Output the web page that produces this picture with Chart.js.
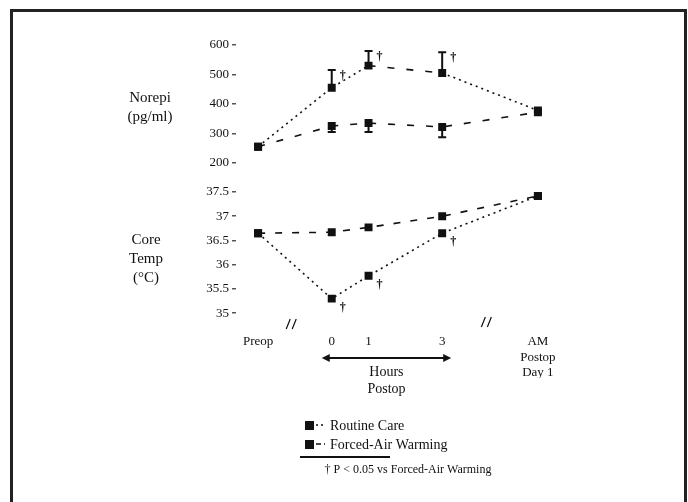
<!DOCTYPE html>
<html>
<head>
<meta charset="utf-8">
<script src="https://cdn.jsdelivr.net/npm/chart.js@4/dist/chart.umd.min.js"></script>
<style>
  html, body { margin: 0; padding: 0; background: #fff; }
  #wrap { width: 688px; height: 502px; position: relative; }
</style>
</head>
<body>
<div id="wrap"><canvas id="c" width="688" height="502"></canvas></div>
<script>
// ---- data ----
const xLabels = ['Preop', '0', '1', '3', ['AM', 'Postop', 'Day 1']];
const xPositions = [-2, 0, 1, 3, 5.6];           // hours (Preop and Day 1 placed across axis breaks)
const seriesNames = ['Routine Care', 'Forced-Air Warming'];

const norepiRoutine = [255, 455, 530, 505, 378];
const norepiForced  = [255, 325, 335, 322, 372];
const norepiRoutineErr = [0, 60, 50, 70, 0];
const norepiForcedErr  = [0, 20, 30, 35, 0];

const tempRoutine = [36.65, 35.30, 35.77, 36.65, 37.42];
const tempForced  = [36.65, 36.67, 36.77, 37.00, 37.42];

const norepiTicks = [200, 300, 400, 500, 600];
const tempTicks = [35, 35.5, 36, 36.5, 37, 37.5];
const sigRoutine = [false, true, true, true, false];   // † P < 0.05 vs Forced-Air Warming

const SERIF = '"Liberation Serif", "DejaVu Serif", serif';
const INK = '#111';

function pts(ys) { return ys.map((y, i) => ({ x: xPositions[i], y })); }

const annot = {
  id: 'annot',
  afterDatasetsDraw(chart) {
    const ctx = chart.ctx;
    const xs = chart.scales.x, yN = chart.scales.yN, yT = chart.scales.yT;
    ctx.save();
    ctx.strokeStyle = INK; ctx.fillStyle = INK;

    // error bars (routine up, forced down) on norepinephrine panel
    ctx.lineWidth = 2;
    function ebar(vals, errs, dir) {
      vals.forEach((v, i) => {
        if (!errs[i]) return;
        const px = xs.getPixelForValue(xPositions[i]);
        const p0 = yN.getPixelForValue(v), p1 = yN.getPixelForValue(v + dir * errs[i]);
        ctx.beginPath(); ctx.moveTo(px, p0); ctx.lineTo(px, p1);
        ctx.moveTo(px - 4, p1); ctx.lineTo(px + 4, p1); ctx.stroke();
      });
    }
    ebar(norepiRoutine, norepiRoutineErr, 1);
    ebar(norepiForced, norepiForcedErr, -1);

    // significance daggers
    ctx.font = 'bold 12px ' + SERIF;
    ctx.textAlign = 'center'; ctx.textBaseline = 'middle';
    sigRoutine.forEach((s, i) => {
      if (!s) return;
      const px = xs.getPixelForValue(xPositions[i]);
      const top = yN.getPixelForValue(norepiRoutine[i] + norepiRoutineErr[i]);
      ctx.fillText('\u2020', px + 11, top + 6);
      const pt = yT.getPixelForValue(tempRoutine[i]);
      ctx.fillText('\u2020', px + 11, pt + 9);
    });

    // axis-break marks
    ctx.lineWidth = 1.2;
    function brk(xv, py) {
      const px = xs.getPixelForValue(xv);
      ctx.beginPath();
      ctx.moveTo(px - 5, py + 5); ctx.lineTo(px - 1, py - 5);
      ctx.moveTo(px + 1, py + 5); ctx.lineTo(px + 5, py - 5);
      ctx.stroke();
    }
    brk(-1.1, chart.chartArea.bottom + 6);
    brk(4.2, chart.chartArea.bottom + 4);

    // y-axis titles
    ctx.font = '15px ' + SERIF;
    ctx.textAlign = 'center';
    ctx.fillText('Norepi', 150, 98);
    ctx.fillText('(pg/ml)', 150, 117);
    ctx.fillText('Core', 146, 240);
    ctx.fillText('Temp', 146, 259);
    ctx.fillText('(\u00B0C)', 146, 278);

    // "Hours Postop" double arrow
    const ax0 = xs.getPixelForValue(xPositions[1]) - 10, ax1 = xs.getPixelForValue(xPositions[3]) + 9;
    const ay = 358;
    ctx.lineWidth = 2;
    ctx.beginPath(); ctx.moveTo(ax0 + 4, ay); ctx.lineTo(ax1 - 4, ay); ctx.stroke();
    ctx.beginPath(); ctx.moveTo(ax0, ay); ctx.lineTo(ax0 + 8, ay - 4); ctx.lineTo(ax0 + 8, ay + 4); ctx.closePath(); ctx.fill();
    ctx.beginPath(); ctx.moveTo(ax1, ay); ctx.lineTo(ax1 - 8, ay - 4); ctx.lineTo(ax1 - 8, ay + 4); ctx.closePath(); ctx.fill();
    ctx.font = '14px ' + SERIF;
    ctx.fillText('Hours', (ax0 + ax1) / 2, 372);
    ctx.fillText('Postop', (ax0 + ax1) / 2, 389);

    // legend
    const ds = chart.data.datasets;
    const legY = [425, 444];
    ctx.textAlign = 'left';
    ctx.font = '14px ' + SERIF;
    [0, 1].forEach(k => {
      const y = legY[k];
      ctx.fillRect(305, y - 4, 9, 9);
      ctx.lineWidth = 1.5;
      ctx.setLineDash(k === 0 ? [2, 3] : [5, 3]);
      ctx.beginPath(); ctx.moveTo(316, y); ctx.lineTo(325, y); ctx.stroke();
      ctx.setLineDash([]);
      ctx.fillText(ds[k].label, 330, y + 1);
    });
    ctx.lineWidth = 2;
    ctx.beginPath(); ctx.moveTo(300, 457); ctx.lineTo(390, 457); ctx.stroke();
    ctx.font = '12px ' + SERIF;
    ctx.textAlign = 'center';
    ctx.fillText('\u2020 P < 0.05 vs Forced-Air Warming', 408, 470);

    // outer frame
    ctx.lineWidth = 3; ctx.strokeStyle = '#222';
    ctx.strokeRect(11.5, 10.5, 674, 500);
    ctx.restore();
  }
};

const tickFont = { family: SERIF, size: 13 };

new Chart(document.getElementById('c'), {
  type: 'line',
  data: {
    datasets: [
      { label: seriesNames[0], data: pts(norepiRoutine), yAxisID: 'yN', borderDash: [2, 4],
        segment: { borderDash: c => (c.p0DataIndex === 2 ? [7, 12] : [2, 4]) } },
      { label: seriesNames[1], data: pts(norepiForced), yAxisID: 'yN', borderDash: [7, 12] },
      { label: seriesNames[0], data: pts(tempRoutine), yAxisID: 'yT', borderDash: [2, 4] },
      { label: seriesNames[1], data: pts(tempForced), yAxisID: 'yT', borderDash: [7, 10] }
    ].map(d => Object.assign({
      borderColor: INK, backgroundColor: INK, borderWidth: 1.6,
      pointStyle: 'rect', pointRadius: 4.5, pointBorderColor: INK, pointBackgroundColor: INK,
      fill: false, tension: 0
    }, d))
  },
  options: {
    responsive: false, animation: false,
    layout: { padding: { top: 40, left: 0, right: 128, bottom: 124 } },
    plugins: { legend: { display: false }, tooltip: { enabled: false } },
    scales: {
      x: {
        type: 'linear', min: -2.6, max: 6.2,
        afterBuildTicks: s => { s.ticks = xPositions.map(v => ({ value: v })); },
        afterFit: s => { s.height = 60; },
        ticks: {
          autoSkip: false, maxRotation: 0, padding: 8, color: INK, font: { family: SERIF, size: 13 },
          callback: (v) => { const i = xPositions.indexOf(v); return i >= 0 ? xLabels[i] : ''; }
        },
        grid: { display: false },
        border: { display: false }
      },
      yT: {
        type: 'linear', position: 'left', stack: 'panels', stackWeight: 141,
        min: 34.9, max: 37.81,
        afterBuildTicks: s => { s.ticks = tempTicks.map(v => ({ value: v })); },
        afterFit: s => { s.width = 236; },
        ticks: { autoSkip: false, color: INK, font: tickFont, padding: 3, callback: v => String(v) },
        grid: { drawOnChartArea: false, tickLength: 4, color: '#555', lineWidth: 1.5 },
        border: { display: false }
      },
      yN: {
        type: 'linear', position: 'left', stack: 'panels', stackWeight: 137,
        min: 152, max: 617,
        afterBuildTicks: s => { s.ticks = norepiTicks.map(v => ({ value: v })); },
        afterFit: s => { s.width = 236; },
        ticks: { autoSkip: false, color: INK, font: tickFont, padding: 3 },
        grid: { drawOnChartArea: false, tickLength: 4, color: '#555', lineWidth: 1.5 },
        border: { display: false }
      }
    }
  },
  plugins: [annot]
});
</script>
</body>
</html>
